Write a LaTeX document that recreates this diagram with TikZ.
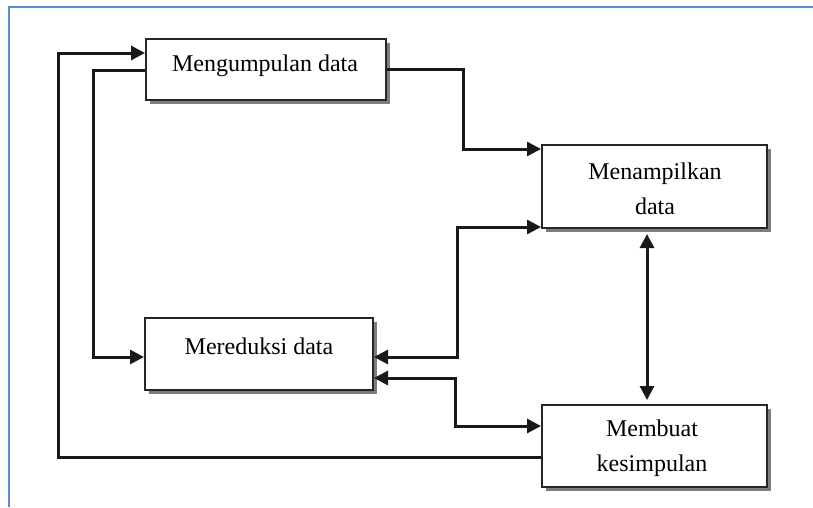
\documentclass[tikz,border=0pt]{standalone}
\usepackage{fontspec}
\setmainfont{Liberation Serif}
\usetikzlibrary{arrows.meta,shadows}
\definecolor{framecol}{RGB}{91,141,214}
\begin{document}
\begin{tikzpicture}[x=1pt,y=-1pt,
  box/.style={draw=black!85,line width=2pt,fill=white,inner sep=0pt,
    drop shadow={shadow xshift=4pt,shadow yshift=-4pt,fill=black!60,opacity=0.85}},
  txt/.style={font=\fontsize{24}{35}\selectfont,align=center,inner sep=0pt},
  conn/.style={draw=black!90,line width=3pt},
  tip/.tip={Triangle[length=14pt,width=14pt]},
]
\useasboundingbox (0,0) rectangle (813,507);
\draw[framecol,line width=2pt] (9,507) -- (9,7) -- (813,7);
% boxes
\node[box,minimum width=240pt,minimum height=61pt] (b1) at (266,69.5) {};
\node[box,minimum width=225pt,minimum height=83pt] (b2) at (654.5,186.5) {};
\node[box,minimum width=228pt,minimum height=72pt] (b3) at (259,354) {};
\node[box,minimum width=225pt,minimum height=82pt] (b4) at (654.5,446) {};
% texts
\node[txt] (t1) at (265,66) {Mengumpulan data};
\node[txt] (t2) at (655,189) {Menampilkan\\data};
\node[txt] (t3) at (259,346) {Mereduksi data};
\node[txt] (t4) at (652,448) {Membuat\\kesimpulan};
% connectors
\draw[conn,-tip] (b4.west |- 0,457) -- (58,457) -- (58,53) -- (b1.west |- 0,53);
\draw[conn,-tip] (b1.east |- 0,69) -- (463,69) -- (463,149) -- (b2.west |- 0,149);
\draw[conn,-tip] (b1.west |- 0,70) -- (93,70) -- (93,357) -- (b3.west |- 0,357);
\draw[conn,tip-tip] (b3.east |- 0,357) -- (457,357) -- (457,227) -- (b2.west |- 0,227);
\draw[conn,tip-tip] (b3.east |- 0,378) -- (455,378) -- (455,426) -- (b4.west |- 0,426);
\draw[conn,tip-tip,shorten <=5pt,shorten >=4pt] (b2.south -| 647,0) -- (b4.north -| 647,0);
\end{tikzpicture}
\end{document}
